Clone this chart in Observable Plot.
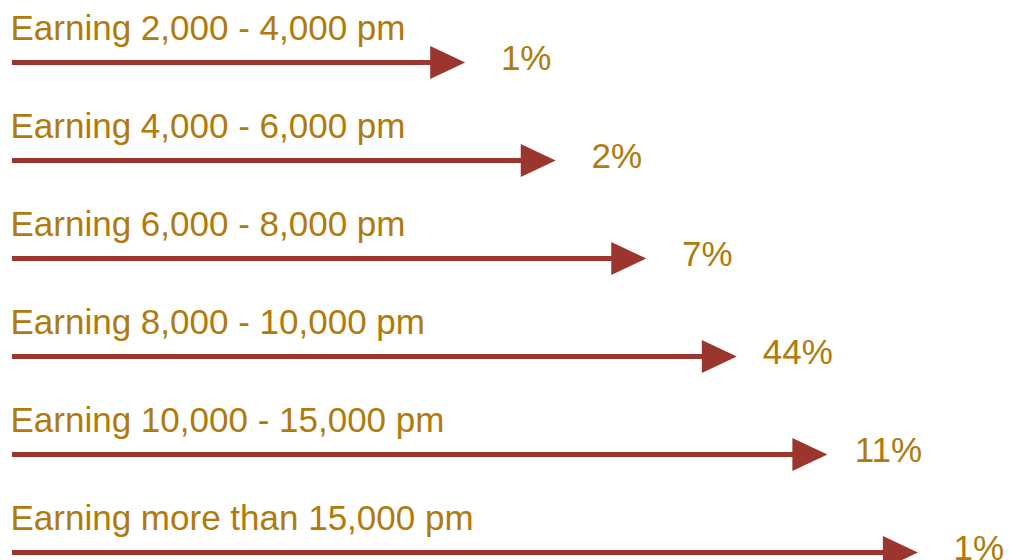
<!DOCTYPE html>
<html>
<head>
<meta charset="utf-8">
<script src="https://cdn.jsdelivr.net/npm/d3@7"></script>
<script src="https://cdn.jsdelivr.net/npm/@observablehq/plot@0.6"></script>
<style>
  html, body { margin: 0; padding: 0; background: #ffffff; }
  #chart svg { display: block; }
</style>
</head>
<body>
<div id="chart"></div>
<script>
// Monthly earnings bands and the share of respondents in each
const bands = [
  "Earning 2,000 - 4,000 pm",
  "Earning 4,000 - 6,000 pm",
  "Earning 6,000 - 8,000 pm",
  "Earning 8,000 - 10,000 pm",
  "Earning 10,000 - 15,000 pm",
  "Earning more than 15,000 pm"
];
const shares = [1, 2, 7, 44, 11, 1];

const arrowColor = "#9b362e";
const textColor = "#b07a0c";
const fontFamily = "'Liberation Sans', Arial, Helvetica, sans-serif";

// Each band's arrow grows one step longer than the previous one
const rows = bands.map((band, i) => ({band, share: shares[i], step: i + 5}));

// Filled triangular arrowhead, tip at the anchor point
const arrowHead = {
  draw(context) {
    context.moveTo(0, 0);
    context.lineTo(-35, -16.5);
    context.lineTo(-35, 16.5);
    context.closePath();
  }
};

const chart = Plot.plot({
  width: 1026,
  height: 560,
  margin: 0,
  x: {domain: [0, 10], range: [12, 917.4], axis: null},
  y: {type: "point", domain: bands, range: [61, 552], padding: 0, axis: null},
  style: {fontFamily, background: "#ffffff", overflow: "visible"},
  marks: [
    Plot.ruleY(rows, {
      y: "band", x1: 0, x2: "step",
      stroke: arrowColor, strokeWidth: 5, insetRight: 30
    }),
    Plot.dot(rows, {
      x: "step", y: "band", symbol: arrowHead, r: 1,
      fill: arrowColor, stroke: null
    }),
    Plot.text(rows, {
      x: 0, y: "band", text: "band",
      textAnchor: "start", lineAnchor: "bottom", dx: -2, dy: -23,
      fontSize: 35, fontFamily, fill: textColor
    }),
    Plot.text(rows, {
      x: "step", y: "band", text: d => `${d.share}%`,
      textAnchor: "middle", lineAnchor: "bottom", dx: 61, dy: 7,
      fontSize: 35, fontFamily, fill: textColor
    })
  ]
});

document.getElementById("chart").appendChild(chart);
</script>
</body>
</html>
